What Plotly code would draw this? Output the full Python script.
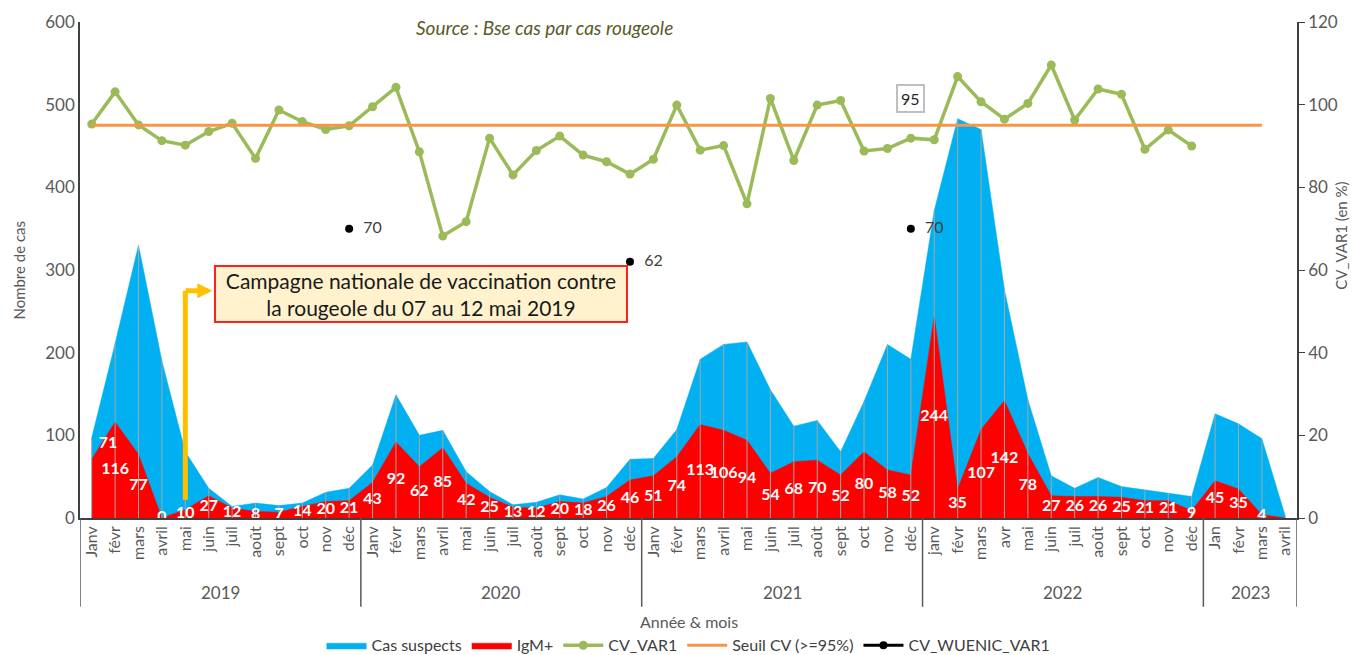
import plotly.graph_objects as go

# ---------------- data ----------------
years = ["2019", "2020", "2021", "2022", "2023"]
months_per_year = [12, 12, 12, 12, 4]
month_labels = (
    ["Janv", "févr", "mars", "avril", "mai", "juin", "juil", "août", "sept", "oct", "nov", "déc"]
    + ["Janv", "févr", "mars", "avril", "mai", "juin", "juil", "août", "sept", "oct", "nov", "déc"]
    + ["Janv", "févr", "mars", "avril", "mai", "juin", "juil", "août", "sept", "oct", "nov", "déc"]
    + ["janv", "févr", "mars", "avr", "mai", "juin", "juil", "août", "sept", "oct", "nov", "déc"]
    + ["Jan", "févr", "mars", "avril"]
)

cas_suspects = [
    97, 211, 330, 190, 80, 36, 14, 18, 15, 18, 31, 36,
    64, 149, 100, 106, 56, 32, 16, 19, 28, 23, 37, 71,
    72, 107, 192, 210, 213, 155, 111, 118, 80, 141, 210, 192,
    372, 483, 470, 276, 143, 51, 36, 49, 38, 34, 30, 26,
    126, 114, 96, 2,
]
igm = [
    71, 116, 77, 0, 10, 27, 12, 8, 7, 14, 20, 21,
    43, 92, 62, 85, 42, 25, 13, 12, 20, 18, 26, 46,
    51, 74, 113, 106, 94, 54, 68, 70, 52, 80, 58, 52,
    244, 35, 107, 142, 78, 27, 26, 26, 25, 21, 21, 9,
    45, 35, 4, 0,
]
igm_text = [str(v) for v in igm[:-1]] + [""]

cv_var1 = [
    95.3, 103.1, 95.1, 91.3, 90.2, 93.5, 95.5, 87.0, 98.7, 95.9, 94.0, 94.9,
    99.5, 104.2, 88.6, 68.2, 71.7, 91.9, 83.0, 88.9, 92.4, 87.8, 86.2, 83.2,
    86.8, 99.9, 89.0, 90.1, 76.0, 101.5, 86.5, 99.9, 101.0, 88.8, 89.4, 91.9,
    91.5, 106.8, 100.7, 96.5, 100.3, 109.6, 96.3, 103.8, 102.5, 89.2, 93.9, 90.0,
    None, None, None, None,
]
seuil_cv = [95] * 51 + [None]
wuenic = [None] * 52
wuenic[11] = 70
wuenic[23] = 62
wuenic[35] = 70
wuenic_text = ["" if v is None else "  " + str(v) for v in wuenic]

# ---------------- helpers ----------------
x = list(range(len(month_labels)))
label_x = list(x)
label_y = [v / 2 for v in igm]
label_x[0] = 0.7   # first label was moved by hand in the original
label_y[0] = 90

BLUE = "#00B0F0"
RED = "#FF0000"
GREEN = "#9BBB59"
ORANGE = "#F79646"
GREY = "#595959"
FONT = "Lato"

fig = go.Figure()

fig.add_trace(go.Scatter(
    x=x, y=cas_suspects, name="Cas suspects", mode="lines",
    line=dict(color=BLUE, width=0.5), fill="tozeroy", fillcolor=BLUE,
))
fig.add_trace(go.Scatter(
    x=x, y=igm, name="IgM+", mode="lines",
    line=dict(color=RED, width=0.5), fill="tozeroy", fillcolor=RED,
))

# drop lines
dx, dy = [], []
for i, v in zip(x, cas_suspects):
    dx += [i, i, None]
    dy += [0, max(v, igm[i]), None]
fig.add_trace(go.Scatter(
    x=dx, y=dy, mode="lines", line=dict(color="#A6A6A6", width=1),
    showlegend=False, hoverinfo="skip",
))

# IgM labels
fig.add_trace(go.Scatter(
    x=label_x, y=label_y, mode="text", text=igm_text,
    textfont=dict(color="white", size=16, family=FONT, weight="bold"),
    textposition="middle center", showlegend=False, cliponaxis=True,
    hoverinfo="skip",
))

fig.add_trace(go.Scatter(
    x=x, y=cv_var1, name="CV_VAR1", mode="lines+markers", yaxis="y2",
    line=dict(color=GREEN, width=3.5), marker=dict(color=GREEN, size=9),
))
fig.add_trace(go.Scatter(
    x=x, y=seuil_cv, name="Seuil CV (>=95%)", mode="lines", yaxis="y2",
    line=dict(color=ORANGE, width=3),
))
fig.add_trace(go.Scatter(
    x=x, y=wuenic, name="CV_WUENIC_VAR1", mode="lines+markers+text", yaxis="y2",
    text=wuenic_text, textposition="middle right",
    textfont=dict(color="#404040", size=16, family=FONT),
    line=dict(color="black", width=3), marker=dict(color="black", size=8),
    connectgaps=False,
))

# ---------------- axes ----------------
fig.update_layout(
    width=1358, height=655,
    margin=dict(l=72, r=69, t=14, b=145),
    plot_bgcolor="white", paper_bgcolor="white",
    font=dict(family=FONT, color=GREY),
    xaxis=dict(
        range=[-0.5, 51.5], tickmode="array", tickvals=x, ticktext=month_labels,
        tickangle=-90, tickfont=dict(size=16, color=GREY), showgrid=False,
        showline=True, linecolor="#404040", linewidth=1.5, ticks="", zeroline=False,
        automargin=False,
    ),
    yaxis=dict(
        range=[0, 600], dtick=100, showgrid=False, showline=True,
        linecolor="#404040", linewidth=1.5, ticks="",
        tickfont=dict(size=17, color=GREY), zeroline=False, automargin=False,
    ),
    yaxis2=dict(
        range=[0, 120], dtick=20, overlaying="y", side="right", showgrid=False,
        showline=True, linecolor="#404040", linewidth=1.5, ticks="outside",
        ticklen=6, tickcolor="#404040", tickfont=dict(size=17, color=GREY),
        zeroline=False, automargin=False,
    ),
    legend=dict(
        orientation="h", x=0.5, xanchor="center", xref="paper",
        yref="container", y=0.027, yanchor="middle",
        font=dict(size=16, color="#404040"), itemwidth=40, tracegroupgap=0,
    ),
    showlegend=True,
)

# axis titles
fig.add_annotation(x=-0.0595, y=0.5, xref="paper", yref="paper", text="Nombre de cas",
                   textangle=-90, showarrow=False, font=dict(size=15, color=GREY))
fig.add_annotation(x=1.0455, y=0.57, xref="paper", yref="paper", text="CV_VAR1 (en %)",
                   textangle=-90, showarrow=False, font=dict(size=15, color=GREY))

# multi-level axis: dividers and years
y_bottom = -0.179
bounds = [-0.5]
acc = -0.5
for n in months_per_year:
    acc += n
    bounds.append(acc)
for b in bounds:
    fig.add_shape(type="line", xref="x", yref="paper", x0=b, x1=b, y0=y_bottom, y1=0,
                  line=dict(color="#595959", width=1.5))
start = -0.5
for yr, n in zip(years, months_per_year):
    fig.add_annotation(x=start + n / 2, y=-0.151, xref="x", yref="paper",
                       text=yr, showarrow=False, font=dict(size=17, color=GREY),
                       yanchor="middle")
    start += n

fig.add_annotation(x=0.5, y=-0.208, xref="paper", yref="paper", text="Année & mois",
                   showarrow=False, font=dict(size=16, color=GREY), yanchor="middle")

# source
fig.add_annotation(x=0.382, y=0.988, xref="paper", yref="paper",
                   text="<i>Source : Bse cas par cas rougeole</i>", showarrow=False,
                   font=dict(size=19, color="#5B5A28"), yanchor="middle")

# "95" label on threshold
fig.add_annotation(x=35, y=101.5, xref="x", yref="y2", text="95", showarrow=False,
                   font=dict(size=16, color="#262626"), bgcolor="white",
                   bordercolor="#BFBFBF", borderwidth=2, borderpad=3)

# yellow arrow
fig.add_shape(type="line", xref="x", yref="y", x0=4, x1=4, y0=22, y1=275,
              line=dict(color="#FFC000", width=5))
fig.add_annotation(x=5.15, y=275, xref="x", yref="y", ax=3.95, ay=275,
                   axref="x", ayref="y", showarrow=True, arrowhead=2,
                   arrowsize=0.6, arrowwidth=5, arrowcolor="#FFC000", text="")

# callout box
fig.add_annotation(x=14.05, y=271, xref="x", yref="y",
                   text="Campagne nationale de vaccination contre<br>la rougeole du 07 au 12 mai 2019",
                   showarrow=False, font=dict(size=21, color="#1a1a1a"),
                   bgcolor="#FFF2CC", bordercolor="#FF2020", borderwidth=2,
                   borderpad=1, width=408, align="center")

fig.write_html("out.html")
